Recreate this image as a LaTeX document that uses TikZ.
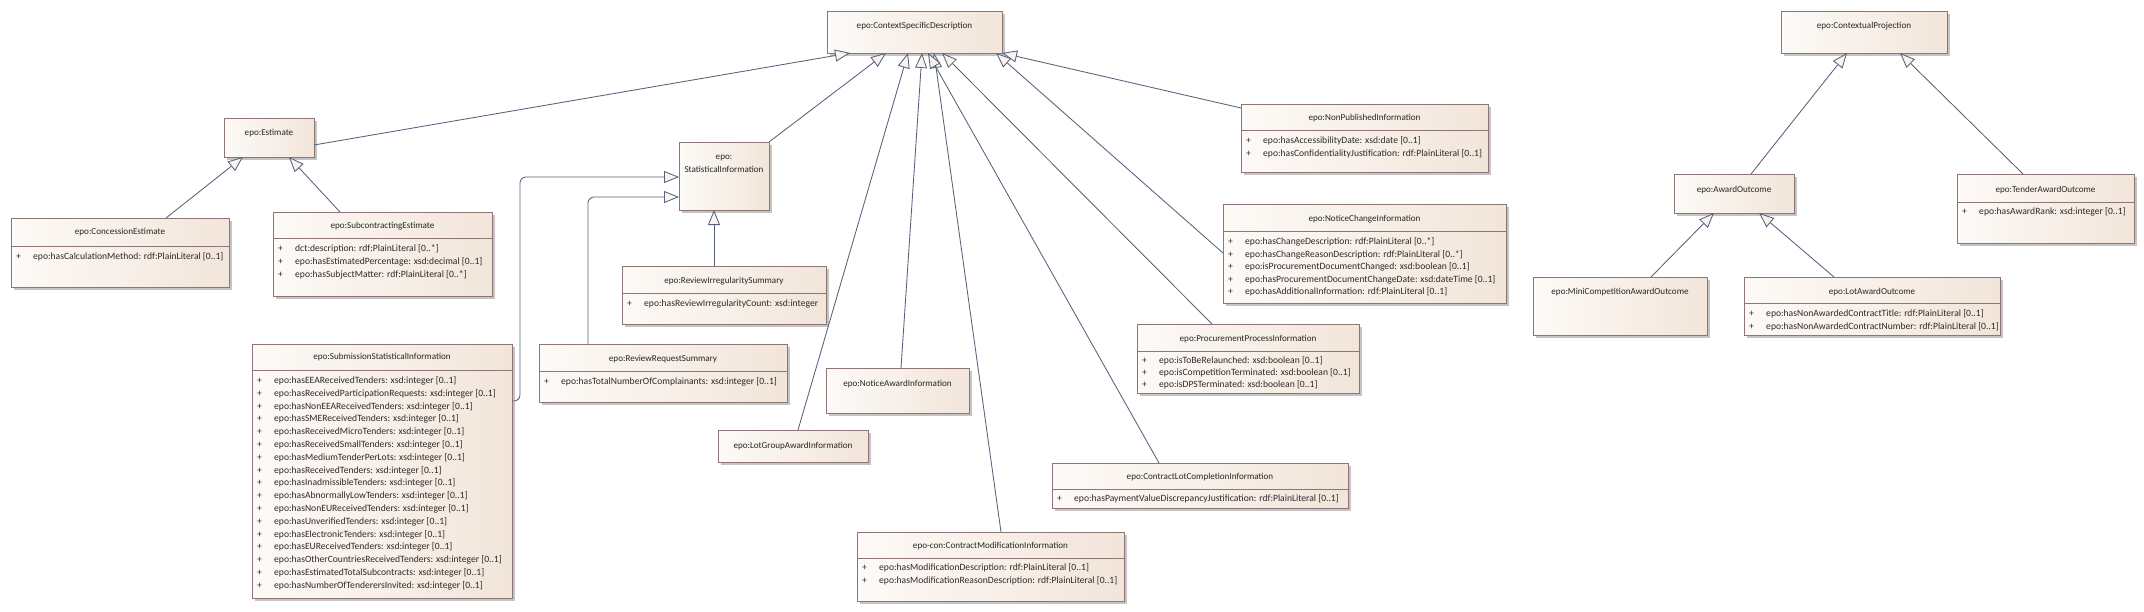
\documentclass[tikz,border=0pt]{standalone}
\usepackage{fontspec}
\setmainfont{Carlito}
\usetikzlibrary{shadows,fit,arrows.meta,calc}
\definecolor{bordc}{HTML}{8F7676}
\definecolor{fillL}{HTML}{FDFAF7}
\definecolor{fillR}{HTML}{F2E5DA}
\definecolor{linec}{HTML}{56627C}
\definecolor{txtc}{HTML}{262626}
\definecolor{attrc}{HTML}{2E2828}
\definecolor{arrfill}{HTML}{FAF3EE}
\definecolor{shadc}{HTML}{C4C4C4}
\tikzset{
  umlbox/.style={draw=bordc, line width=0.9pt, left color=fillL, right color=fillR,
    inner sep=0pt, outer sep=0pt,
    drop shadow={shadow xshift=3pt, shadow yshift=-3pt, fill=shadc, opacity=1}},
  clstitle/.style={font=\fontsize{9.1}{10}\selectfont, text=txtc, inner sep=0pt,
    text height=6.8pt, text depth=2pt},
  clstitlemulti/.style={font=\fontsize{9.1}{13}\selectfont, text=txtc, inner sep=0pt, align=center},
  attrtxt/.style={font=\fontsize{9.6}{10}\selectfont, text=attrc, inner sep=0pt,
    anchor=west, text height=7pt, text depth=2pt},
  sepline/.style={draw=bordc, line width=0.9pt},
  gen/.style={draw=linec, line width=0.85pt,
    -{Triangle[length=15pt,width=12pt,fill=arrfill]}},
}
% name, x1, y1, x2, y2, titleY, title
\newcommand{\umlcls}[7]{%
  \node[umlbox, fit={(#2,#3)(#4,#5)}] (#1) {};
  \node[clstitle] (#1-t) at ({(#2+#4)/2},#6) {#7};
}
% x1, x2, y
\newcommand{\umlsep}[3]{\draw[sepline] (#1,#3) -- (#2,#3);}
% name, x1, firstY, spacing, list
\newcommand{\umlattrs}[5]{%
  \foreach \t [count=\i from 0] in {#5} {
    \node[attrtxt] (#1-p\i) at ({#2+5},{#3+\i*#4}) {+};
    \node[attrtxt] (#1-a\i) at ({#2+22},{#3+\i*#4}) {\t};
  }
}
\begin{document}
\begin{tikzpicture}[x=1pt,y=-1pt]
\useasboundingbox (0,0) rectangle (2144,611);
\fill[white] (0,0) rectangle (2144,611);

% ---- left / centre group
\umlcls{csd}{827}{11}{1002}{53}{26}{epo:ContextSpecificDescription}
\umlcls{est}{224}{118}{314}{157}{133}{epo:Estimate}

\umlcls{conc}{11}{218}{229}{287}{232}{epo:ConcessionEstimate}
\umlsep{11}{229}{246}
\umlattrs{conc}{11}{257}{13}{{epo:hasCalculationMethod: rdf:PlainLiteral [0..1]}}

\umlcls{subc}{273}{212}{492}{296}{226}{epo:SubcontractingEstimate}
\umlsep{273}{492}{238}
\umlattrs{subc}{273}{249}{13}{{dct:description: rdf:PlainLiteral [0..*]},{epo:hasEstimatedPercentage: xsd:decimal [0..1]},{epo:hasSubjectMatter: rdf:PlainLiteral [0..*]}}

\node[umlbox, fit={(679,142)(769,210)}] (stat) {};
\node[clstitlemulti] (stat-t) at (724,164) {epo:\\StatisticalInformation};

\umlcls{ris}{622}{266}{826}{324}{281}{epo:ReviewIrregularitySummary}
\umlsep{622}{826}{293}
\umlattrs{ris}{622}{304}{13}{{epo:hasReviewIrregularityCount: xsd:integer}}

\umlcls{rrs}{539}{344}{787}{402}{359}{epo:ReviewRequestSummary}
\umlsep{539}{787}{371}
\umlattrs{rrs}{539}{382}{13}{{epo:hasTotalNumberOfComplainants: xsd:integer [0..1]}}

\umlcls{sub}{252}{344}{512}{598}{357}{epo:SubmissionStatisticalInformation}
\umlsep{252}{512}{370}
\umlattrs{sub}{252}{381}{12.8}{{epo:hasEEAReceivedTenders: xsd:integer [0..1]},{epo:hasReceivedParticipationRequests: xsd:integer [0..1]},{epo:hasNonEEAReceivedTenders: xsd:integer [0..1]},{epo:hasSMEReceivedTenders: xsd:integer [0..1]},{epo:hasReceivedMicroTenders: xsd:integer [0..1]},{epo:hasReceivedSmallTenders: xsd:integer [0..1]},{epo:hasMediumTenderPerLots: xsd:integer [0..1]},{epo:hasReceivedTenders: xsd:integer [0..1]},{epo:hasInadmissibleTenders: xsd:integer [0..1]},{epo:hasAbnormallyLowTenders: xsd:integer [0..1]},{epo:hasNonEUReceivedTenders: xsd:integer [0..1]},{epo:hasUnverifiedTenders: xsd:integer [0..1]},{epo:hasElectronicTenders: xsd:integer [0..1]},{epo:hasEUReceivedTenders: xsd:integer [0..1]},{epo:hasOtherCountriesReceivedTenders: xsd:integer [0..1]},{epo:hasEstimatedTotalSubcontracts: xsd:integer [0..1]},{epo:hasNumberOfTenderersInvited: xsd:integer [0..1]}}

\umlcls{nai}{826}{368}{969}{413}{384}{epo:NoticeAwardInformation}
\umlcls{lga}{718}{430}{868}{462}{446}{epo:LotGroupAwardInformation}

\umlcls{cmi}{857}{532}{1124}{601}{546}{epo-con:ContractModificationInformation}
\umlsep{857}{1124}{558}
\umlattrs{cmi}{857}{568}{13}{{epo:hasModificationDescription: rdf:PlainLiteral [0..1]},{epo:hasModificationReasonDescription: rdf:PlainLiteral [0..1]}}

\umlcls{clc}{1052}{463}{1348}{508}{477}{epo:ContractLotCompletionInformation}
\umlsep{1052}{1348}{489}
\umlattrs{clc}{1052}{499}{13}{{epo:hasPaymentValueDiscrepancyJustification: rdf:PlainLiteral [0..1]}}

\umlcls{ppi}{1137}{324}{1359}{393}{339}{epo:ProcurementProcessInformation}
\umlsep{1137}{1359}{351}
\umlattrs{ppi}{1137}{361}{12}{{epo:isToBeRelaunched: xsd:boolean [0..1]},{epo:isCompetitionTerminated: xsd:boolean [0..1]},{epo:isDPSTerminated: xsd:boolean [0..1]}}

\umlcls{nci}{1223}{204}{1506}{303}{219}{epo:NoticeChangeInformation}
\umlsep{1223}{1506}{231}
\umlattrs{nci}{1223}{242}{12.6}{{epo:hasChangeDescription: rdf:PlainLiteral [0..*]},{epo:hasChangeReasonDescription: rdf:PlainLiteral [0..*]},{epo:isProcurementDocumentChanged: xsd:boolean [0..1]},{epo:hasProcurementDocumentChangeDate: xsd:dateTime [0..1]},{epo:hasAdditionalInformation: rdf:PlainLiteral [0..1]}}

\umlcls{npi}{1241}{104}{1488}{172}{118}{epo:NonPublishedInformation}
\umlsep{1241}{1488}{130}
\umlattrs{npi}{1241}{141}{12.6}{{epo:hasAccessibilityDate: xsd:date [0..1]},{epo:hasConfidentialityJustification: rdf:PlainLiteral [0..1]}}

% ---- right group
\umlcls{cp}{1781}{11}{1947}{53}{26}{epo:ContextualProjection}
\umlcls{ao}{1674}{174}{1794}{213}{190}{epo:AwardOutcome}
\umlcls{tao}{1957}{174}{2134}{243}{190}{epo:TenderAwardOutcome}
\umlsep{1957}{2134}{202}
\umlattrs{tao}{1957}{212}{13}{{epo:hasAwardRank: xsd:integer [0..1]}}
\umlcls{mcao}{1533}{277}{1707}{335}{292}{epo:MiniCompetitionAwardOutcome}
\umlcls{lao}{1744}{277}{2000}{335}{292}{epo:LotAwardOutcome}
\umlsep{1744}{2000}{303}
\umlattrs{lao}{1744}{314}{12.6}{{epo:hasNonAwardedContractTitle: rdf:PlainLiteral [0..1]},{epo:hasNonAwardedContractNumber: rdf:PlainLiteral [0..1]}}

% ---- generalisations
\draw[gen] ([yshift=-27pt]est.north east) -- ([xshift=23pt]csd.south west);
\draw[gen] (stat.north east) -- ([xshift=59pt]csd.south west);
\draw[gen] ([xshift=80pt]lga.north west) -- ([xshift=81pt]csd.south west);
\draw[gen] ([xshift=75pt]nai.north west) -- ([xshift=95pt]csd.south west);
\draw[gen] ([xshift=144pt]cmi.north west) -- ([xshift=107pt]csd.south west);
\draw[gen] ([xshift=107pt]clc.north west) -- ([xshift=101pt]csd.south west);
\draw[gen] ([xshift=75pt]ppi.north west) -- ([xshift=115pt]csd.south west);
\draw[gen] ([yshift=-49pt]nci.north west) -- ([xshift=169pt]csd.south west);
\draw[gen] ([yshift=-4pt]npi.north west) -- (csd.south east);

\draw[gen] ([xshift=155pt]conc.north west) -- ([xshift=19pt]est.south west);
\draw[gen] ([xshift=67pt]subc.north west) -- ([xshift=65pt]est.south west);
\draw[gen] ([xshift=92pt]ris.north west) -- ([xshift=35pt]stat.south west);
\draw[gen, rounded corners=6pt] ([xshift=49pt]rrs.north west) |- ([yshift=-55pt]stat.north west);
\draw[gen, rounded corners=6pt] ([yshift=-57pt]sub.north east) -- ++(8,0) |- ([yshift=-35pt]stat.north west);

\draw[gen] ([xshift=77pt]ao.north west) -- ([xshift=66pt]cp.south west);
\draw[gen] ([xshift=66pt]tao.north west) -- ([xshift=119pt]cp.south west);
\draw[gen] ([xshift=118pt]mcao.north west) -- ([xshift=40pt]ao.south west);
\draw[gen] ([xshift=90pt]lao.north west) -- ([xshift=85pt]ao.south west);
\end{tikzpicture}
\end{document}
